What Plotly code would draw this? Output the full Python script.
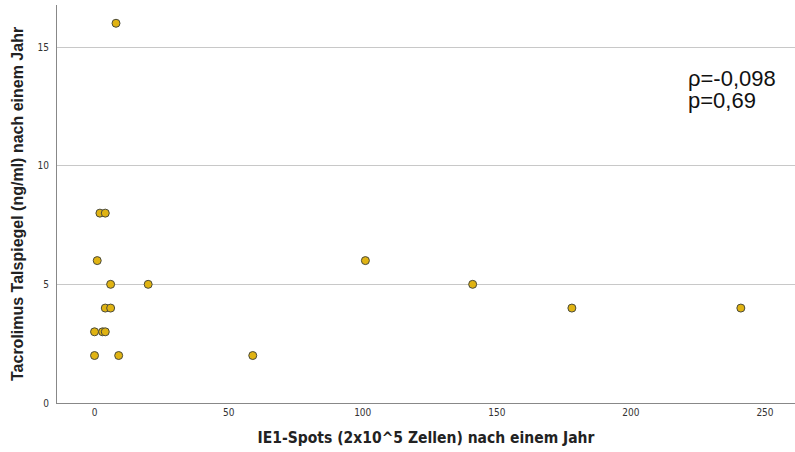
import plotly.graph_objects as go

ie1_spots = [8, 2, 4, 1, 6, 20, 101, 141, 4, 6, 178, 241, 0, 3, 4, 0, 9, 59]
tacrolimus = [16, 8, 8, 6, 5, 5, 6, 5, 4, 4, 4, 4, 3, 3, 3, 2, 2, 2]
x_ticks = [0, 50, 100, 150, 200, 250]
y_ticks = [0, 5, 10, 15]

fig = go.Figure()
fig.add_trace(go.Scatter(
    x=ie1_spots, y=tacrolimus, mode="markers",
    marker=dict(size=8, color="#e0b312", line=dict(color="#4a4a3a", width=1)),
    showlegend=False, hoverinfo="skip"))

fig.update_layout(
    width=795, height=452,
    margin=dict(l=57, r=0, t=5, b=49),
    plot_bgcolor="white", paper_bgcolor="white",
    xaxis=dict(range=[-14, 261.2], tickvals=x_ticks, showgrid=False, zeroline=False,
               automargin=False,
               showline=True, linecolor="#888888", linewidth=1, ticks="",
               tickfont=dict(family="DejaVu Sans Condensed", size=10, color="#333333"),
               title=dict(text="<b>IE1-Spots (2x10^5 Zellen) nach einem Jahr</b>",
                          font=dict(family="DejaVu Sans Condensed", size=15.5, color="#222222"))),
    yaxis=dict(range=[0, 16.77], tickvals=y_ticks, showgrid=True, gridcolor="#c8c8c8",
               automargin=False,
               gridwidth=1, zeroline=False, showline=True, linecolor="#888888", linewidth=1,
               ticks="", ticklabelstandoff=5,
               tickfont=dict(family="DejaVu Sans Condensed", size=10, color="#333333")),
    annotations=[
        dict(x=-0.0542, y=0.5, xref="paper", yref="paper", xanchor="center",
             yanchor="middle", textangle=-90, showarrow=False,
             text="<b>Tacrolimus Talspiegel (ng/ml) nach einem Jahr</b>",
             font=dict(family="Liberation Sans", size=16, color="#222222")),
        dict(x=0.852, y=0.816, xref="paper", yref="paper", xanchor="left",
             yanchor="middle", align="left", showarrow=False, text="ρ=-0,098",
             font=dict(family="Liberation Sans", size=22, color="#111111")),
        dict(x=0.852, y=0.759, xref="paper", yref="paper", xanchor="left",
             yanchor="middle", align="left", showarrow=False, text="p=0,69",
             font=dict(family="Liberation Sans", size=22, color="#111111")),
    ],
)

fig.write_html("out.html", config={"displayModeBar": False},
               post_script="document.body.style.margin='0';")
